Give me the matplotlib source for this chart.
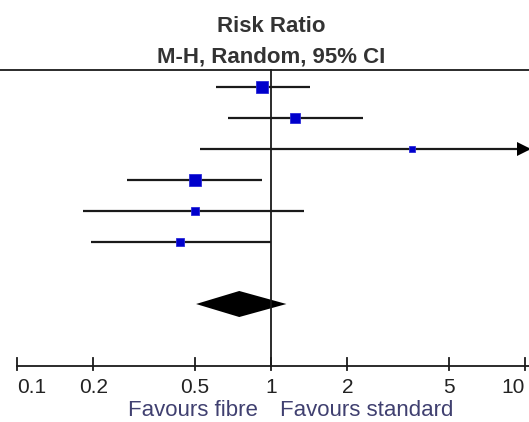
import matplotlib
matplotlib.use('Agg')
import matplotlib.pyplot as plt
import numpy as np

# study estimates (risk ratio, 95% CI)
rr = [0.92, 1.24, 3.59, 0.50, 0.50, 0.44]
ci_low = [0.61, 0.68, 0.525, 0.27, 0.182, 0.195]
ci_high = [1.42, 2.30, 25.0, 0.92, 1.35, 1.00]
weight = [25.7, 19.1, 5.8, 25.7, 13.6, 10.4]

# pooled estimate
pooled = [0.75, 0.507, 1.15]

ticks = [0.1, 0.2, 0.5, 1, 2, 5, 10]
tick_labels = ['0.1', '0.2', '0.5', '1', '2', '5', '10']

plt.rcParams['font.family'] = ['Liberation Sans', 'DejaVu Sans']

fig = plt.figure(figsize=(5.29, 4.22), dpi=100)
ax = fig.add_axes([0, 0, 1, 1])
ax.set_xscale('log')
ax.set_xlim(10 ** (-1 - 17 / 254), 10 ** (258 / 254))
ax.set_ylim(11.806, -1.806)
ax.axis('off')

line_col = '#1a1a1a'
xmax = ax.get_xlim()[1]

# header
ax.text(1, -0.774, 'Risk Ratio', ha='center', va='baseline', fontsize=16,
        fontweight='bold', color='#333333')
ax.text(1, 0.194, 'M-H, Random, 95% CI', ha='center', va='baseline', fontsize=16,
        fontweight='bold', color='#333333')
ax.axhline(0.452, color=line_col, lw=1.3)
ax.plot([1, 1], [0.452, 10], color=line_col, lw=1.3)

# studies
for i in range(len(rr)):
    y = i + 1
    hi = min(ci_high[i], xmax)
    ax.plot([ci_low[i], hi], [y, y], color=line_col, lw=1.6, solid_capstyle='butt')
    if ci_high[i] > xmax:
        ax.plot([xmax / 10 ** (5 / 254)], [y], marker='>', color='black', ms=10,
                markeredgewidth=0)
    side = 2.2 * np.sqrt(weight[i]) / (100 / 72)
    ax.plot([rr[i]], [y], marker='s', color='#0000cc', ms=side,
            markeredgecolor='#2a2ad8', markeredgewidth=0.6, zorder=3)

# pooled diamond
yd = 8
h = 0.42
ax.fill([pooled[1], pooled[0], pooled[2], pooled[0]], [yd, yd - h, yd, yd + h],
        color='black', lw=0)

# x axis
ax.plot([ticks[0], xmax], [10, 10], color=line_col, lw=1.3)
for t, lab in zip(ticks, tick_labels):
    ax.plot([t, t], [9.742, 10.13], color=line_col, lw=1.3)
    ha = 'center'
    if t == ticks[0]:
        ha = 'left'
    elif t == ticks[-1]:
        ha = 'right'
    ax.text(t, 10.87, lab, ha=ha, va='baseline', fontsize=15, color='#222222')

ax.text(0.889, 11.61, 'Favours fibre', ha='right', va='baseline', fontsize=16,
        color='#404070')
ax.text(1.085, 11.61, 'Favours standard', ha='left', va='baseline', fontsize=16,
        color='#404070')

fig.savefig('out.png', dpi=100)
